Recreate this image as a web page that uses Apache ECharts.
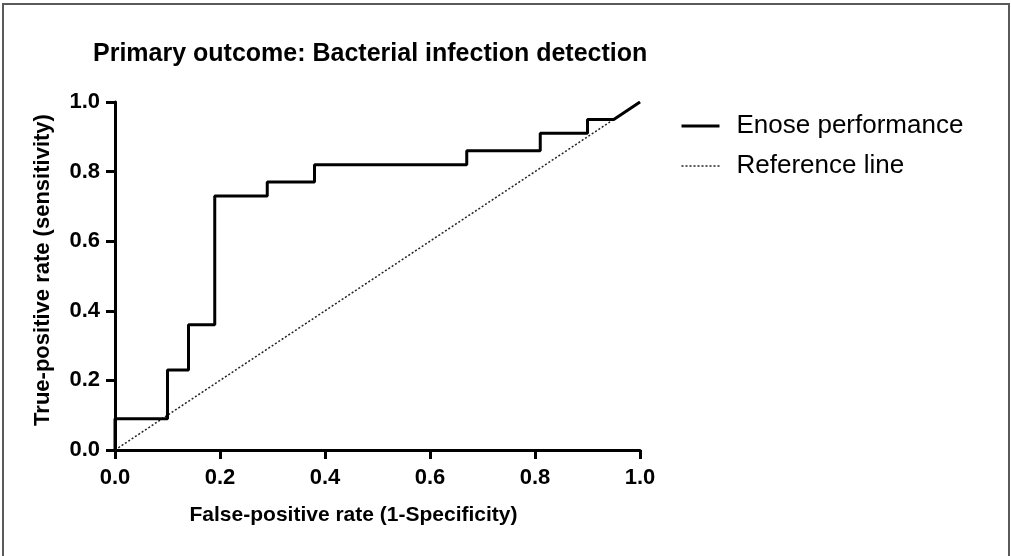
<!DOCTYPE html>
<html>
<head>
<meta charset="utf-8">
<script src="https://cdn.jsdelivr.net/npm/echarts@6/dist/echarts.min.js"></script>
<style>
html,body{margin:0;padding:0;background:#fff;}
#chart{width:1011px;height:556px;}
</style>
</head>
<body>
<div id="chart"></div>
<script>
const titleText = 'Primary outcome: Bacterial infection detection';
const xTitle = 'False-positive rate (1-Specificity)';
const yTitle = 'True-positive rate (sensitivity)';
const seriesNames = ['Enose performance', 'Reference line'];
const enoseFpr = [0, 0, 0.10, 0.10, 0.14, 0.14, 0.19, 0.19, 0.29, 0.29, 0.38, 0.38, 0.67, 0.67, 0.81, 0.81, 0.90, 0.90, 0.95, 1.00];
const enoseTpr = [0, 0.09, 0.09, 0.23, 0.23, 0.36, 0.36, 0.73, 0.73, 0.77, 0.77, 0.82, 0.82, 0.86, 0.86, 0.91, 0.91, 0.95, 0.95, 1.00];
const refFpr = [0, 1];
const refTpr = [0, 1];

const chart = echarts.init(document.getElementById('chart'));
const FONT = '"Liberation Sans", Arial, Helvetica, sans-serif';
const axisCommon = {
  type: 'value', min: 0, max: 1, interval: 0.2,
  axisLine: { show: true, onZero: false, lineStyle: { color: '#000', width: 3 } },
  axisTick: { show: true, inside: false, length: 9, lineStyle: { color: '#000', width: 3 } },
  splitLine: { show: false },
  axisLabel: { formatter: v => v.toFixed(1), color: '#000', fontFamily: FONT, fontWeight: 'bold', fontSize: 22 },
  nameLocation: 'middle',
  nameTextStyle: { color: '#000', fontFamily: FONT, fontWeight: 'bold', fontSize: 21 }
};
const enoseLine = { color: '#000', width: 3 };
const refLine = { color: '#222', width: 1.5, type: [2, 2] };
chart.setOption({
  animation: false,
  backgroundColor: '#fff',
  title: {
    text: titleText, left: 88, top: 37,
    textStyle: { color: '#000', fontFamily: FONT, fontWeight: 'bold', fontSize: 25 }
  },
  grid: { left: 115, right: 371, top: 102, bottom: 106, containLabel: false },
  xAxis: Object.assign({}, axisCommon, {
    name: xTitle, nameGap: 55,
    axisLabel: Object.assign({}, axisCommon.axisLabel, { margin: 17 }),
    nameTextStyle: Object.assign({}, axisCommon.nameTextStyle, { padding: [0, 48, 0, 0] })
  }),
  yAxis: Object.assign({}, axisCommon, {
    name: yTitle, nameGap: 61,
    axisLabel: Object.assign({}, axisCommon.axisLabel, { margin: 15 }),
    nameTextStyle: Object.assign({}, axisCommon.nameTextStyle, { fontSize: 22, padding: [0, 0, 0, 12] })
  }),
  legend: {
    orient: 'vertical', left: 675, top: 106,
    itemWidth: 38, itemHeight: 14, itemGap: 10,
    itemStyle: { opacity: 0 },
    textStyle: { color: '#000', fontFamily: FONT, fontSize: 26, lineHeight: 30, padding: [0, 0, 0, 12] },
    data: [
      { name: seriesNames[0], lineStyle: enoseLine },
      { name: seriesNames[1], lineStyle: refLine }
    ]
  },
  series: [
    {
      name: seriesNames[0], type: 'line', symbol: 'none',
      data: enoseFpr.map((x, i) => [x, enoseTpr[i]]),
      lineStyle: enoseLine, itemStyle: { color: '#000' }, z: 3
    },
    {
      name: seriesNames[1], type: 'line', symbol: 'none',
      data: refFpr.map((x, i) => [x, refTpr[i]]),
      lineStyle: refLine, itemStyle: { color: '#222' }, z: 2
    }
  ],
  graphic: [{
    type: 'rect', silent: true,
    shape: { x: 3, y: 4, width: 1006, height: 600 },
    style: { fill: 'none', stroke: '#5a5a5a', lineWidth: 2 }
  }]
});
</script>
</body>
</html>
